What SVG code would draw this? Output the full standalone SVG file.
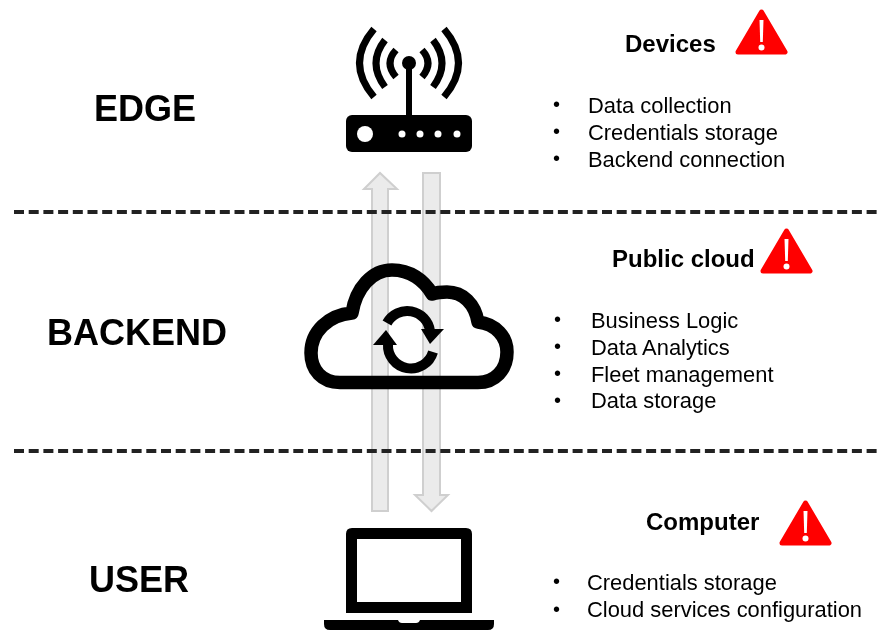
<svg xmlns="http://www.w3.org/2000/svg" width="878" height="630" viewBox="0 0 878 630">
<style>
text{font-family:"Liberation Sans",Arial,sans-serif;fill:#000}
.zone{font-size:36px;font-weight:700}
.head{font-size:24px;font-weight:700}
.item{font-size:21.900px}
.bullet{font-size:20px}
.dash{fill:none;stroke:#222;stroke-width:4;stroke-dasharray:10 4.7}
.flow{fill:#ebebeb;stroke:#cfcfcf;stroke-width:2}
.wave{fill:none;stroke:#000;stroke-width:7}
.soft{filter:url(#soft)}
</style>
<defs>
<filter id="soft" filterUnits="userSpaceOnUse" x="0" y="0" width="878" height="630"><feGaussianBlur stdDeviation="0.500"/></filter>
<g id="warn">
<path d="M26.500 3 L50 43 H3 Z" fill="#f00" stroke="#f00" stroke-width="5" stroke-linejoin="round"/>
<path d="M24.500 11 H28.500 L27.800 33 H25.200 Z" fill="#fff"/>
<circle cx="26.500" cy="38.500" r="3" fill="#fff"/>
</g>
</defs>
<g id="connectors" class="soft">
<path class="flow" d="M372 511 V189 H364 L380 173 L397 189 H388 V511 Z"/>
<path class="flow" d="M423 173 H440 V495 H448 L431.500 511 L415 495 H423 Z"/>
<path class="dash" d="M14 212 H878"/>
<path class="dash" d="M14 451 H878"/>
</g>
<g id="edge-label" class="soft"><text class="zone" x="94" y="121">EDGE</text></g>
<g id="backend-label" class="soft"><text class="zone" x="47" y="345">BACKEND</text></g>
<g id="user-label" class="soft"><text class="zone" x="89" y="592">USER</text></g>
<g id="router" class="soft">
<rect x="346" y="115" width="126" height="37" rx="6"/>
<circle cx="365" cy="134" r="8" fill="#fff"/>
<circle cx="402" cy="134" r="3.500" fill="#fff"/>
<circle cx="420" cy="134" r="3.500" fill="#fff"/>
<circle cx="438" cy="134" r="3.500" fill="#fff"/>
<circle cx="457" cy="134" r="3.500" fill="#fff"/>
<rect x="406" y="63" width="6" height="53"/>
<circle cx="409" cy="63" r="7"/>
<path class="wave" d="M396 50 Q384 63 396 77 M385 40 Q367 63 385 87 M374 29 Q345 63 374 97"/>
<path class="wave" d="M422 50 Q434 63 422 77 M433 40 Q451 63 433 87 M444 29 Q473 63 444 97"/>
</g>
<g id="cloud" class="soft">
<path d="M340 382.500 C322 382.500 311 370 311 353 C311 332 328 315 352 313 C356 288 372 270 392 270 C410 270 424 280 432 294 C438 292 442 292 447 292 C463 292 475 304 478 322 C496 324 507 337 507 352 C507 370 495 382.500 478 382.500 Z" fill="none" stroke="#000" stroke-width="13.500" stroke-linejoin="round"/>
<path d="M387 323 A23 23 0 0 1 430 331" fill="none" stroke="#000" stroke-width="10"/>
<path d="M421 329 H444 L430 344 Z"/>
<path d="M433 352 A23 23 0 0 1 388 344" fill="none" stroke="#000" stroke-width="10"/>
<path d="M373 345 H397 L386 330 Z"/>
</g>
<g id="laptop" class="soft">
<path fill-rule="evenodd" d="M352 528 H466 Q472 528 472 534 V613 H346 V534 Q346 528 352 528 Z M357 539 V602 H461 V539 Z"/>
<path d="M324 620 H398 Q399 623 402 623 H416 Q419 623 420 620 H494 V624 Q494 630 488 630 H330 Q324 630 324 624 Z"/>
</g>
<g id="devices" class="soft">
<text class="head" x="625" y="52">Devices</text>
<use href="#warn" x="735" y="9"/>
<text class="bullet" x="553" y="111">•</text><text class="item" x="588" y="113">Data collection</text>
<text class="bullet" x="553" y="138">•</text><text class="item" x="588" y="140">Credentials storage</text>
<text class="bullet" x="553" y="165">•</text><text class="item" x="588" y="167">Backend connection</text>
</g>
<g id="public-cloud" class="soft">
<text class="head" x="612" y="267">Public cloud</text>
<use href="#warn" x="760" y="228"/>
<text class="bullet" x="554" y="326">•</text><text class="item" x="591" y="328">Business Logic</text>
<text class="bullet" x="554" y="353">•</text><text class="item" x="591" y="355">Data Analytics</text>
<text class="bullet" x="554" y="380">•</text><text class="item" x="591" y="382">Fleet management</text>
<text class="bullet" x="554" y="407">•</text><text class="item" x="591" y="408">Data storage</text>
</g>
<g id="computer" class="soft">
<text class="head" x="646" y="530">Computer</text>
<use href="#warn" x="779" y="500"/>
<text class="bullet" x="553" y="588">•</text><text class="item" x="587" y="590">Credentials storage</text>
<text class="bullet" x="553" y="616">•</text><text class="item" x="587" y="617">Cloud services configuration</text>
</g>
</svg>
